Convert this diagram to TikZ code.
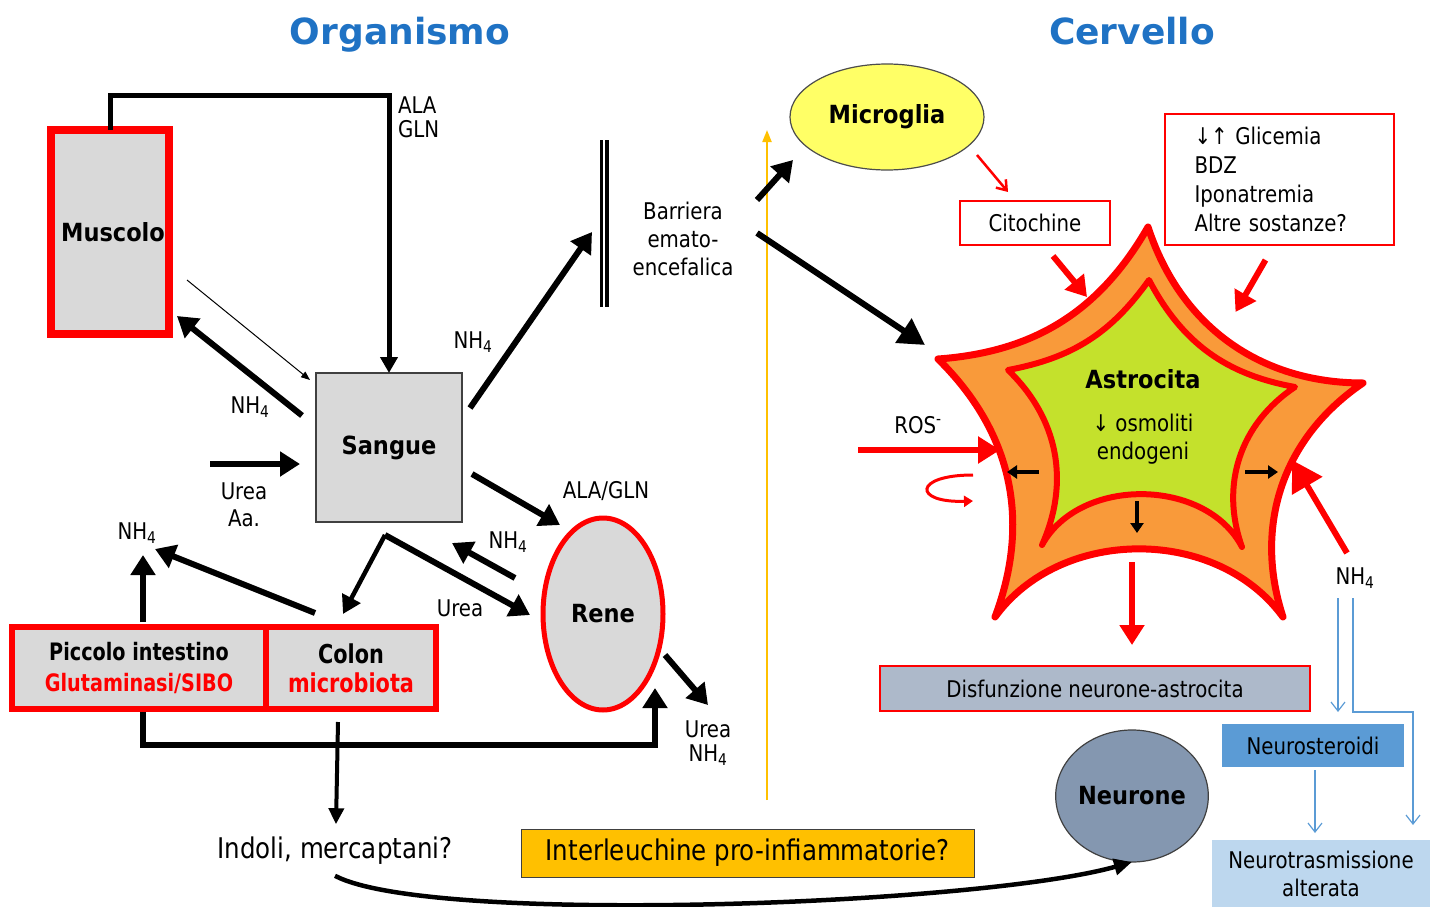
\documentclass[tikz,border=0pt]{standalone}
\usepackage{fontspec}
\setmainfont{DejaVu Sans}
\newfontfamily\lblfont{DejaVu Sans}[FakeStretch=0.86]
\newfontfamily\organfont{DejaVu Sans}[FakeStretch=0.9]
\newfontfamily\gutfont{DejaVu Sans}[FakeStretch=0.8]
\usepackage{tikz}
\usetikzlibrary{arrows.meta,shapes.geometric,positioning,calc}
\definecolor{titleBlue}{HTML}{1F72C4}
\definecolor{organGray}{HTML}{D9D9D9}
\definecolor{gliaYellow}{HTML}{FFFF66}
\definecolor{astroOrange}{HTML}{F99A3A}
\definecolor{astroGreen}{HTML}{C4E12C}
\definecolor{ilYellow}{HTML}{FFC000}
\definecolor{dysGray}{HTML}{ADB9CA}
\definecolor{neuroBlue}{HTML}{8497B0}
\definecolor{steroidBlue}{HTML}{5B9BD5}
\definecolor{transBlue}{HTML}{BDD7EE}

\begin{document}
\begin{tikzpicture}[x=1pt,y=-1pt,
  lbl/.style={font=\lblfont\fontsize{23}{28}\selectfont,inner sep=0pt,outer sep=0pt,align=center},
  biglbl/.style={lbl,font=\lblfont\fontsize{28.5}{30}\selectfont},
  organ/.style={font=\organfont\fontsize{25}{28}\selectfont\bfseries,align=center,inner sep=0pt,outer sep=0pt},
  heading/.style={font=\fontsize{36}{40}\selectfont\bfseries,text=titleBlue,anchor=base},
  fatarrow/.style={line width=6pt,-{Triangle[length=20pt,width=24pt]}},
  redarrow/.style={fatarrow,draw=red},
  smallarrow/.style={line width=3.5pt,-{Triangle[length=10pt,width=13pt]}},
  bluearrow/.style={draw=steroidBlue,line width=1.2pt,-{Straight Barb[length=9pt,width=14pt]}},
  redbox/.style={draw=red,line width=1.2pt}]
  \useasboundingbox (0,0) rectangle (1430,907);

  % Titles
  \node[heading] (organismo) at (400,45) {Organismo};
  \node[heading] (cervello) at (1132,45) {Cervello};

  % Organismo: organs
  \node[organ,draw=red,line width=8pt,fill=organGray,minimum width=118pt,minimum height=204pt] (muscolo) at (110,232) {\hspace*{6pt}Muscolo};
  \node[organ,draw=black!75,line width=1.2pt,fill=organGray,minimum width=146pt,minimum height=149pt] (sangue) at (389,447.5) {Sangue};
  \node[organ,ellipse,draw=red,line width=5pt,fill=organGray,minimum width=120pt,minimum height=192pt] (rene) at (603,614) {Rene};
  \node[organ,draw=red,line width=6pt,fill=organGray,minimum width=254pt,minimum height=82pt,font=\gutfont\fontsize{24}{31}\selectfont\bfseries] (piccolo) at (139,668) {Piccolo intestino\\\textcolor{red}{Glutaminasi/SIBO}};
  \node[organ,draw=red,line width=6pt,fill=organGray,minimum width=170pt,minimum height=82pt,font=\gutfont\fontsize{26}{29}\selectfont\bfseries] (colon) at (351,668) {Colon\\\textcolor{red}{microbiota}};

  % Barriera emato-encefalica
  \node[minimum width=5pt,minimum height=167pt,inner sep=0pt,outer sep=0pt] (barriera) at (604,223.5) {};
  \draw[line width=3pt] (barriera.north west) -- (barriera.south west);
  \draw[line width=4pt] (barriera.north east) -- (barriera.south east);
  \node[lbl] (bbblbl) at (683,239) {Barriera\\emato-\\encefalica};

  % Muscolo <-> Sangue
  \draw[line width=5pt,-{Triangle[length=16pt,width=17pt]}] (muscolo.north) -- ++(0,-35) -| (sangue.north);
  \node[lbl,align=left,anchor=north west,font=\lblfont\fontsize{23}{24}\selectfont] (alagln) at (398,97) {ALA\\GLN};
  \draw[line width=1pt,-{Triangle[length=9pt,width=7pt]}] ($(muscolo.east)+(18,48)$) -- ($(sangue.north west)+(-6,7)$);
  \draw[fatarrow] ($(sangue.west)+(-14,-32)$) -- ($(muscolo.south east)+(8,-18)$);
  \node[lbl] (nh4mus) at (250,407) {NH\textsubscript{4}};

  % Urea / Aa. into Sangue
  \draw[fatarrow] ($(sangue.west)+(-106,16.5)$) -- ($(sangue.west)+(-16,16.5)$);
  \node[lbl,font=\lblfont\fontsize{23}{27}\selectfont] (ureaaa) at (244,505) {Urea\\Aa.};

  % Sangue -> barriera
  \draw[fatarrow] ($(sangue.east)+(8,-39.5)$) -- ($(barriera.west)+(-9.5,8.5)$);
  \node[lbl] (nh4bbb) at (473,342) {NH\textsubscript{4}};

  % Sangue <-> Rene
  \draw[fatarrow] ($(sangue.east)+(10,26.5)$) -- ($(rene.north)+(-43,7)$);
  \node[lbl] (alaglnrene) at (606,491) {ALA/GLN};
  \draw[fatarrow] ($(rene.west)+(-28,-36)$) -- ($(sangue.south east)+(-10,21)$);
  \node[lbl] (nh4rene) at (508,542) {NH\textsubscript{4}};
  \draw[fatarrow] ($(sangue.south)+(-4,13)$) -- ($(rene.west)+(-13,1)$);
  \draw[line width=4.5pt,-{Triangle[length=18pt,width=20pt]}] ($(sangue.south)+(-4,13)$) -- ($(colon.north)+(-8,-13)$);
  \node[lbl] (urearene) at (460,608) {Urea};
  \draw[fatarrow] ($(rene.east)+(2,41)$) -- ($(rene.east)+(45,91)$);
  \node[lbl,font=\lblfont\fontsize{23}{24}\selectfont] (ureanh4) at (708,743) {Urea\\NH\textsubscript{4}};

  % Intestino
  \draw[fatarrow] ($(piccolo.north)+(4,-5)$) -- ($(piccolo.north)+(4,-72)$);
  \draw[fatarrow] ($(colon.north)+(-36,-14)$) -- ($(piccolo.north)+(16,-78)$);
  \node[lbl] (nh4int) at (137,533) {NH\textsubscript{4}};
  \draw[fatarrow] ($(piccolo.south)+(4,3)$) -- ++(0,33) -| ($(rene.south)+(52,-22)$);
  \node[biglbl] (indoli) at (335,851) {Indoli, mercaptani?};
  \draw[line width=4pt,-{Triangle[length=16pt,width=15pt]}] ($(colon.south)+(-13,13)$) -- ($(indoli.north)+(1,-13)$);

  % Divider
  \coordinate (divlow) at (767,800);
  \coordinate (divhigh) at (767,130);
  \draw[draw=ilYellow,line width=2pt,-{Triangle[length=12pt,width=9pt]}] (divlow) -- (divhigh);

  % Cervello
  \node[organ,ellipse,draw=black!70,line width=1.2pt,fill=gliaYellow,minimum width=194pt,minimum height=106pt] (microglia) at (887,117) {Microglia};
  \node[lbl,redbox,minimum width=150pt,minimum height=44pt] (citochine) at (1035,223) {Citochine};
  \node[lbl,redbox,align=left,text width=170pt,minimum width=229pt,minimum height=131pt,font=\lblfont\fontsize{23}{29}\selectfont] (fattori) at (1279.5,179.5) {↓↑ Glicemia\\BDZ\\Iponatremia\\Altre sostanze?};

  % Astrocita (star)
  \coordinate (oT) at (1148,227);
  \coordinate (oR) at (1363,383);
  \coordinate (oBR) at (1283,617);
  \coordinate (oBL) at (995,617);
  \coordinate (oL) at (938,359);
  \draw[draw=red,line width=7pt,fill=astroOrange,line join=round]
    (oT) to[bend right=36] (oR) to[bend right=37] (oBR) to[bend right=54] (oBL)
    to[bend right=33] (oL) to[bend right=28] (oT) -- cycle;
  \coordinate (iT) at (1149,280);
  \coordinate (iR) at (1295,387);
  \coordinate (iBR) at (1242,547);
  \coordinate (iBL) at (1042,545);
  \coordinate (iL) at (1008,370);
  \draw[draw=red,line width=6pt,fill=astroGreen,line join=round]
    (iT) to[bend right=26] (iR) to[bend right=38] (iBR) to[bend right=62] (iBL)
    to[bend right=35] (iL) to[bend right=22] (iT) -- cycle;
  \node[organ] (astrocita) at (1143,379) {Astrocita};
  \node[lbl] (osmoliti) at (1143,439) {↓ osmoliti\\endogeni};
  \draw[smallarrow] ($(osmoliti)+(-104,33)$) -- ($(osmoliti)+(-136,33)$);
  \draw[smallarrow] ($(osmoliti)+(102,33)$) -- ($(osmoliti)+(135,33)$);
  \draw[smallarrow] ($(osmoliti)+(-6,62)$) -- ($(osmoliti)+(-6,94)$);

  % Arrows into the brain
  \draw[fatarrow] ($(microglia.west)+(-33,83)$) -- ($(microglia.west)+(3,43)$);
  \draw[fatarrow,-{Triangle[length=26pt,width=28pt]}] ($(oL)+(-181,-126)$) -- ($(oL)+(-13,-14)$);
  \draw[red,line width=2.5pt,-{Straight Barb[length=9pt,width=13pt]}] ($(microglia.east)+(-7,38)$) -- ($(citochine.north)+(-27,-9)$);
  \draw[redarrow] ($(citochine.south)+(18,11)$) -- ($(citochine.south)+(52,52)$);
  \draw[redarrow] ($(fattori.south)+(-14,15)$) -- ($(fattori.south)+(-44,67)$);

  % ROS
  \node[lbl] (ros) at (918,425) {ROS\textsuperscript{-}};
  \draw[redarrow,-{Triangle[length=22pt,width=26pt]}] ($(ros)+(-60,25)$) -- ($(ros)+(82,25)$);
  \draw[red,line width=3pt,-{Triangle[length=9pt,width=11pt]}] ($(ros)+(55,50)$) .. controls ($(ros)+(-5,50)$) and ($(ros)+(-5,78)$) .. ($(ros)+(55,76)$);

  % NH4 into astrocita
  \node[lbl] (nh4astro) at (1355,578) {NH\textsubscript{4}};
  \draw[redarrow,-{Triangle[length=30pt,width=34pt]}] ($(nh4astro)+(-8,-25)$) -- ($(nh4astro)+(-63,-118)$);

  % Outcomes
  \node[lbl,redbox,fill=dysGray,minimum width=430pt,minimum height=45pt] (disfunzione) at (1095,688.5) {Disfunzione neurone-astrocita};
  \draw[redarrow] ($(disfunzione.north)+(37,-104)$) -- ($(disfunzione.north)+(37,-21)$);
  \node[lbl,fill=steroidBlue,minimum width=182pt,minimum height=43pt] (neurosteroidi) at (1313,745.5) {Neurosteroidi};
  \node[lbl,fill=transBlue,minimum width=218pt,minimum height=67pt] (neurotrasm) at (1321,873.5) {Neurotrasmissione\\alterata};
  \draw[bluearrow] ($(nh4astro)+(-17,20)$) -- ($(neurosteroidi.north)+(25,-12)$);
  \draw[bluearrow] ($(nh4astro)+(-2,20)$) |- ($(nh4astro)+(58,134)$) -- ($(neurotrasm.north)+(92,-15)$);
  \draw[bluearrow] ($(neurosteroidi.south)+(2,3)$) -- ($(neurotrasm.north)+(-6,-7)$);

  \node[organ,ellipse,draw=black!75,line width=1.2pt,fill=neuroBlue,minimum width=150pt,minimum height=132pt] (neurone) at (1132,796) {Neurone};
  \node[biglbl,draw=black!75,line width=1pt,fill=ilYellow,minimum width=453pt,minimum height=48pt] (interleuchine) at (747.5,853) {Interleuchine pro-infiammatorie?};
  \draw[line width=4.5pt,-{Triangle[length=18pt,width=16pt]}] ($(indoli.south)+(0,11)$) .. controls ($(indoli.south)+(95,61)$) and ($(neurone.south)+(-152,43)$) .. (neurone.south);
\end{tikzpicture}
\end{document}
